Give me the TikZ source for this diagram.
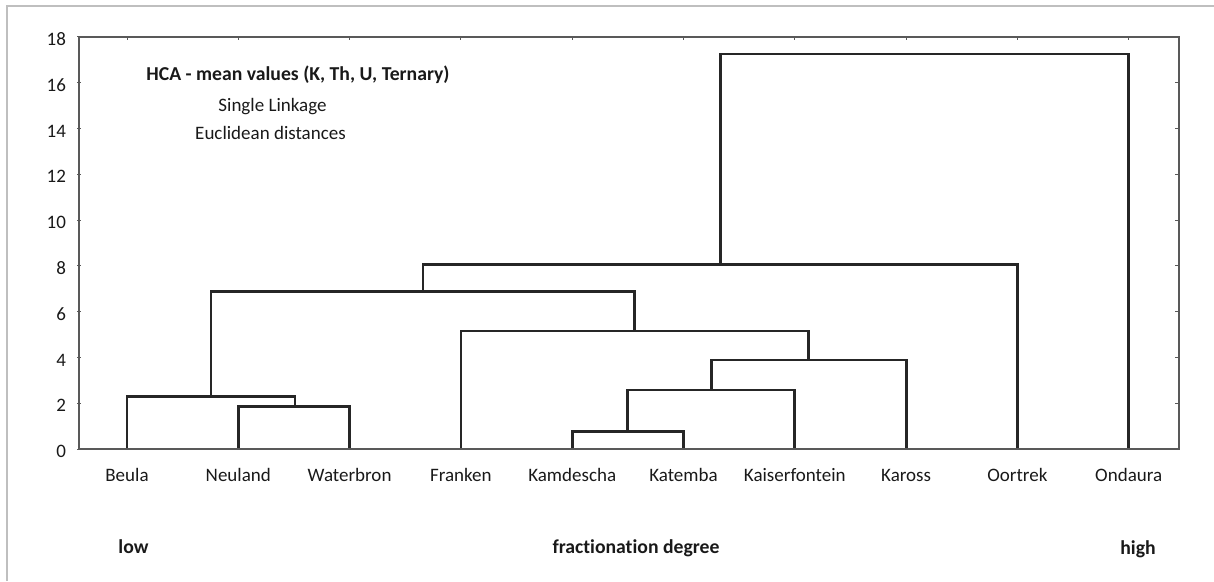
\documentclass[tikz,border=0pt]{standalone}
\usepackage{fontspec}
\setmainfont{Carlito}[Ligatures=NoCommon]
\begin{document}
\begin{tikzpicture}[x=1pt,y=-1pt,
  txt/.style={inner sep=0pt,outer sep=0pt,text=black!90,font=\fontsize{19}{22}\selectfont},
  btxt/.style={txt,font=\fontsize{19.7}{22}\selectfont\bfseries},
  leaflab/.style={txt,anchor=base},
  ylab/.style={txt,anchor=east},
  axis/.style={draw=black!65,line width=1.3pt},
  tick/.style={draw=black!65,line width=1pt},
  branch/.style={draw=black!85,line width=2.8pt,line cap=rect,line join=miter},
  frameline/.style={draw=black!25,line width=1.5pt}]
\useasboundingbox (0,0) rectangle (1214,581);
% outer partial frame
\draw[frameline] (7,581) -- (7,6) -- (1214,6);
% plot frame
\draw[axis] (79,37) rectangle (1179,449);
% y labels and ticks
\foreach \v in {0,2,...,18}{
  \pgfmathsetmacro{\yy}{449-22.89*\v}
  \node[ylab] (yl\v) at (66,\yy+2.5) {\v};
  \draw[tick] (77,\yy) -- (81,\yy);
  \draw[tick] (1179,\yy) -- (1175,\yy);
}
\foreach \k in {1,...,26}{
  \pgfmathsetmacro{\yy}{449-22.89*\k*2/3}
  \draw[tick,line width=0.8pt] (1179,\yy) -- (1177.5,\yy);
}
% leaves
\foreach \n/\lab [count=\i from 0] in {b/Beula,n/Neuland,w/Waterbron,f/Franken,kd/Kamdescha,kt/Katemba,kf/Kaiserfontein,kr/Kaross,o/Oortrek,on/Ondaura}{
  \pgfmathsetmacro{\xx}{127+111.3*\i}
  \coordinate (\n) at (\xx,449);
  \node[leaflab] (L\n) at (\xx,481) {\lab};
  \draw[tick] (\xx,37) -- (\xx,40);
}
% merge points
\coordinate (m1) at (294.95,406.7);
\coordinate (m2) at (210.98,396.8);
\coordinate (m3) at (627.85,431.6);
\coordinate (m4) at (711.3,390);
\coordinate (m5) at (808.7,360);
\coordinate (m6) at (634.8,331);
\coordinate (m7) at (422.9,291.7);
\coordinate (m8) at (720.2,264.5);
\coordinate (m9) at (924.4,54);
% branches
\draw[branch] (n) |- (m1) -| (w);
\draw[branch] (b) |- (m2) -| (m1);
\draw[branch] (kd) |- (m3) -| (kt);
\draw[branch] (m3) |- (m4) -| (kf);
\draw[branch] (m4) |- (m5) -| (kr);
\draw[branch] (f) |- (m6) -| (m5);
\draw[branch] (m2) |- (m7) -| (m6);
\draw[branch] (m7) |- (m8) -| (o);
\draw[branch] (m8) |- (m9) -| (on);
% redraw baseline over branch ends
\draw[axis] (79,449) -- (1179,449);
% titles
\node[btxt,anchor=base] (title) at (298,80) {HCA - mean values (K, Th, U, Ternary)};
\node[txt,anchor=base] (sub1) at (272.5,111) {Single Linkage};
\node[txt,anchor=base] (sub2) at (270.5,139) {Euclidean distances};
% bottom labels
\node[btxt,anchor=base] (low) at (133.5,553) {low};
\node[btxt,anchor=base] (frac) at (636,553) {fractionation degree};
\node[btxt,anchor=base] (high) at (1138,554) {high};
\end{tikzpicture}
\end{document}
